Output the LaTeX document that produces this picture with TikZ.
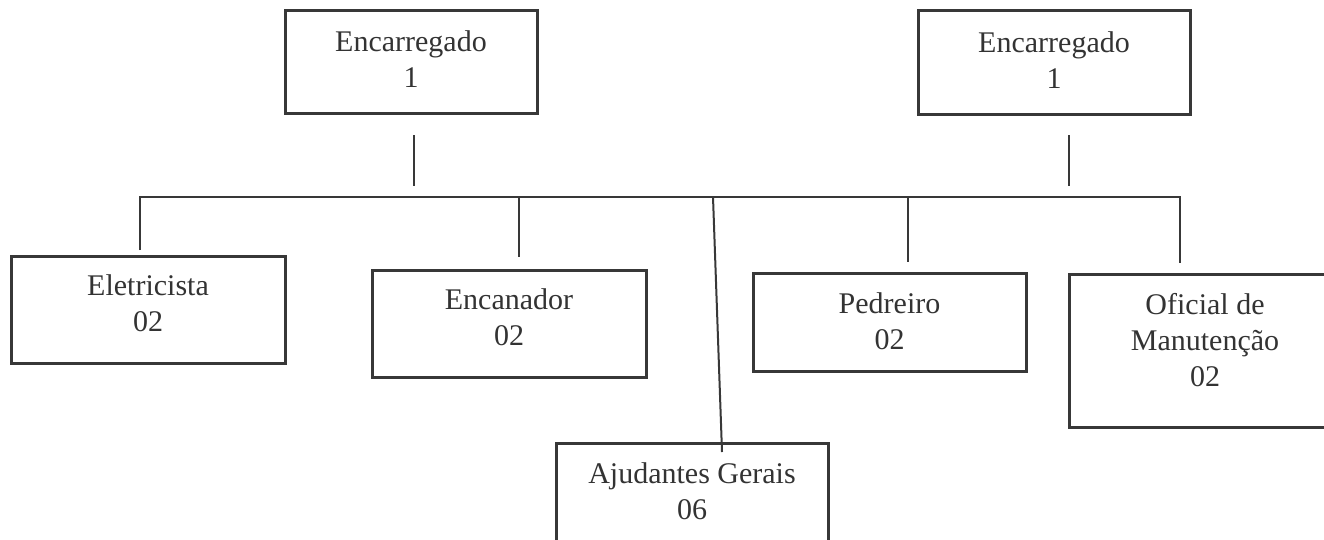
\documentclass[tikz,border=0pt]{standalone}
\usepackage{fontspec}
\setmainfont{Liberation Serif}
\definecolor{linegray}{HTML}{383838}
\definecolor{textgray}{HTML}{333333}
\newcommand{\subir}[2]{\raisebox{#1}[\height][\depth]{\begin{tabular}{@{}c@{}}#2\end{tabular}}}
\begin{document}
\begin{tikzpicture}[x=1pt,y=-1pt,
cargo/.style={draw=linegray,line width=3pt,inner sep=0pt,text=textgray,font=\fontsize{30}{36}\selectfont},
ligacao/.style={draw=linegray,line width=2.4pt}]
\useasboundingbox (0,0) rectangle (1324,539);
\node[cargo,minimum width=252pt,minimum height=103pt] (encA) at (411,61.5) {\subir{-1pt}{Encarregado\\1}};
\node[cargo,minimum width=272pt,minimum height=104pt] (encB) at (1054,62) {\subir{-1pt}{Encarregado\\1}};
\node[cargo,minimum width=274pt,minimum height=107pt] (elet) at (148,309.5) {\subir{3pt}{Eletricista\\02}};
\node[cargo,minimum width=274pt,minimum height=107pt] (encan) at (509,323.5) {\subir{3pt}{Encanador\\02}};
\node[cargo,minimum width=273pt,minimum height=98pt] (pedr) at (889.5,322) {\subir{-2pt}{Pedreiro\\02}};
\node[cargo,minimum width=272pt,minimum height=153pt] (ofic) at (1205,350.5) {\subir{7pt}{Oficial de\\Manutenção\\02}};
\node[cargo,minimum width=272pt,minimum height=112pt] (ajud) at (692,499) {\subir{5pt}{Ajudantes Gerais\\06}};
\coordinate (stubA) at (414,186);
\coordinate (stubB) at (1069,186);
\coordinate (barL) at (140,197);
\coordinate (barR) at (1180,197);
\coordinate (dropB) at (519,197);
\coordinate (dropC) at (713,197);
\coordinate (dropD) at (908,197);
\draw[ligacao,shorten <=20.5pt] (encA.south -| stubA) -- (stubA);
\draw[ligacao,shorten <=19.5pt] (encB.south -| stubB) -- (stubB);
\draw[ligacao,shorten <=4.5pt,shorten >=9.5pt] (barL |- elet.north) -- (barL) -- (barR) -- (barR |- ofic.north);
\draw[ligacao,shorten >=11.5pt] (dropB) -- (dropB |- encan.north);
\draw[ligacao,shorten >=9.5pt] (dropD) -- (dropD |- pedr.north);
\draw[ligacao,line width=2pt] (dropC) -- ([xshift=30pt,yshift=-10.5pt]ajud.north);
\end{tikzpicture}
\end{document}
